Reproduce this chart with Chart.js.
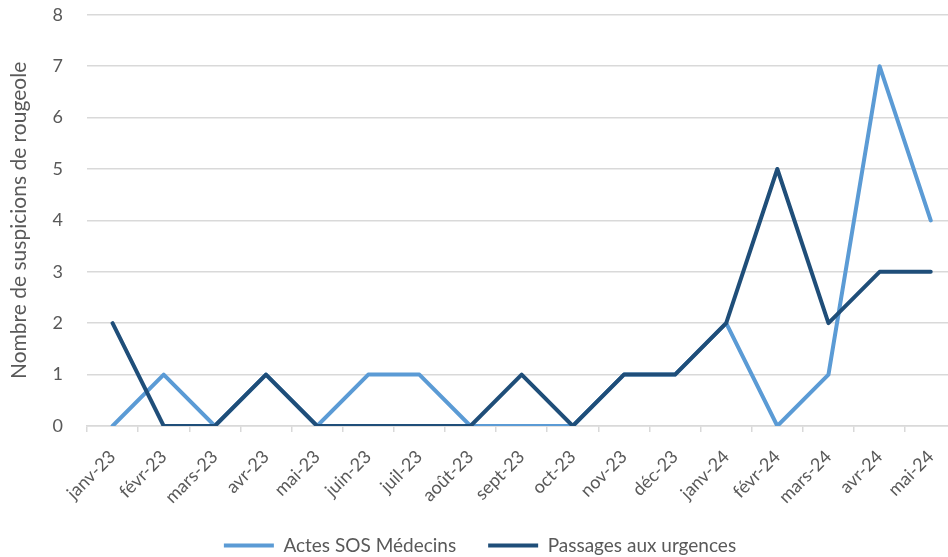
<!DOCTYPE html>
<html>
<head>
<meta charset="utf-8">
<script src="https://cdn.jsdelivr.net/npm/chart.js@4"></script>
<style>
  html, body { margin: 0; padding: 0; background: #fff; overflow: hidden; }
  #wrap { width: 960px; height: 557px; }
</style>
</head>
<body>
<div id="wrap"><canvas id="measlesChart"></canvas></div>
<script>
// Mois (axe X)
const months = ["janv-23", "févr-23", "mars-23", "avr-23", "mai-23", "juin-23", "juil-23", "août-23",
    "sept-23", "oct-23", "nov-23", "déc-23", "janv-24", "févr-24", "mars-24", "avr-24", "mai-24"];
// Actes SOS Médecins
const sosMedecins = [0, 1, 0, 1, 0, 1, 1, 0, 0, 0, 1, 1, 2, 0, 1, 7, 4];
// Passages aux urgences
const urgences = [2, 0, 0, 1, 0, 0, 0, 0, 1, 0, 1, 1, 2, 5, 2, 3, 3];

const textColor = "#595959";
const gridColor = "#d9d9d9";
const fontFamily = "Lato, 'Open Sans', sans-serif";

const ctx = document.getElementById("measlesChart").getContext("2d");
new Chart(ctx, {
    type: "line",
    data: {
        labels: months,
        datasets: [
            {
                label: "Actes SOS Médecins",
                data: sosMedecins,
                borderColor: "#5b9bd5",
                backgroundColor: "#5b9bd5",
                borderWidth: 4,
                borderCapStyle: "round",
                borderJoinStyle: "round",
                pointRadius: 0,
                tension: 0,
                order: 2
            },
            {
                label: "Passages aux urgences",
                data: urgences,
                borderColor: "#1f4e79",
                backgroundColor: "#1f4e79",
                borderWidth: 4,
                borderCapStyle: "round",
                borderJoinStyle: "round",
                pointRadius: 0,
                tension: 0,
                order: 1
            }
        ]
    },
    options: {
        responsive: true,
        maintainAspectRatio: false,
        animation: false,
        // padding bas négatif : la légende descend vers le bas du cadre
        layout: { padding: { top: 0, right: 0, bottom: -8, left: 0 } },
        plugins: {
            legend: {
                position: "bottom",
                reverse: true,
                labels: {
                    color: textColor,
                    font: { family: fontFamily, size: 19 },
                    usePointStyle: true,
                    pointStyle: "line",
                    pointStyleWidth: 50,
                    boxHeight: 19,
                    padding: 32
                }
            },
            tooltip: { enabled: false }
        },
        scales: {
            x: {
                offset: true,
                grid: {
                    offset: true,
                    drawOnChartArea: false,
                    drawTicks: true,
                    tickLength: 6,
                    color: gridColor,
                    lineWidth: 1.5
                },
                border: { display: true, color: gridColor, width: 1.5 },
                ticks: {
                    color: textColor,
                    font: { family: fontFamily, size: 18 },
                    minRotation: 45,
                    maxRotation: 45,
                    autoSkip: false,
                    padding: 14
                },
                afterFit: function (scale) { scale.height = 78; }
            },
            y: {
                min: 0,
                max: 8,
                ticks: {
                    stepSize: 1,
                    color: textColor,
                    font: { family: fontFamily, size: 18 },
                    padding: 4
                },
                grid: {
                    color: gridColor,
                    lineWidth: 1.5,
                    drawTicks: true,
                    tickLength: 20,
                    tickColor: "rgba(0,0,0,0)"
                },
                border: { display: false },
                title: {
                    display: true,
                    text: "Nombre de suspicions de rougeole",
                    color: textColor,
                    font: { family: fontFamily, size: 21 },
                    padding: { top: 7, bottom: 0 }
                },
                afterFit: function (scale) { scale.width = 87; }
            }
        }
    }
});
</script>
</body>
</html>
